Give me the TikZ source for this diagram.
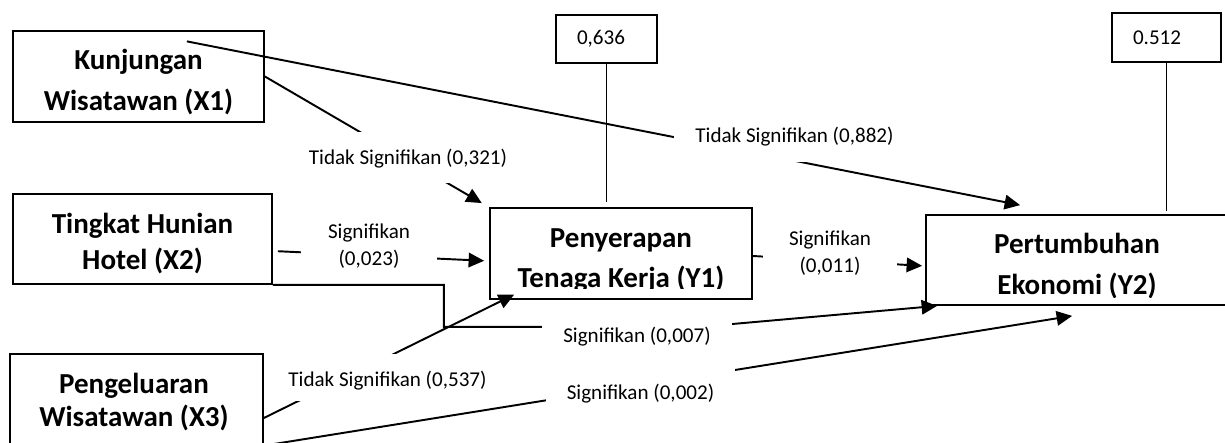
\documentclass[tikz,border=0pt]{standalone}
\usepackage{fontspec}
\setmainfont{Carlito}
\usetikzlibrary{arrows.meta}

\begin{document}
\begin{tikzpicture}[
    varbox/.style={draw, line width=1pt, minimum height=1.81cm, inner sep=0pt},
    title/.style={font=\fontsize{16.5}{23.2}\selectfont\bfseries, align=center,
      anchor=base, inner sep=0pt},
    numbox/.style={draw, line width=1pt, inner xsep=0.42cm, inner ysep=0pt,
      align=left, font=\fontsize{12}{14}\selectfont},
    lbl/.style={fill=white, inner xsep=0.42cm, inner ysep=0pt, anchor=base,
      font=\fontsize{12}{15.5}\selectfont},
    lblbox/.style={fill=white, inner sep=0pt, align=center,
      font=\fontsize{12}{15.5}\selectfont},
    arr/.style={-{Triangle[length=3.1mm,width=2.9mm]}, line width=1.1pt},
    link/.style={line width=1.1pt}
  ]
  \useasboundingbox (0,0) rectangle (24.5,8.86);

  % Variable boxes
  \node[varbox, minimum width=5.02cm] (x1) at (2.77,7.33) {};
  \node[varbox, minimum width=5.18cm, minimum height=1.80cm] (x2) at (2.85,4.08) {};
  \node[varbox, minimum width=5.06cm] (x3) at (2.73,0.87) {};
  \node[varbox, minimum width=5.24cm] (y1) at (12.42,3.79) {};
  \node[varbox, minimum width=6.04cm, minimum height=1.80cm] (y2) at (21.54,3.66) {};

  % titles sit on the baseline of their last line
  \node[title] (x1t) at (2.77,6.65) {Kunjungan\\Wisatawan (X1)};
  \node[title] (x2t) at (2.85,3.46) {Tingkat Hunian\\[-2.2pt]Hotel (X2)};
  \node[title] (x3t) at (2.68,0.32) {Pengeluaran\\[-3.9pt]Wisatawan (X3)};
  % second line of Y1 and Y2 is cut at the bottom
  \begin{scope}
    \clip ([yshift=0.23cm]y1.south west) rectangle (y1.north east);
    \node[title] (y1t) at (12.42,3.10) {Penyerapan\\Tenaga Kerja (Y1)};
  \end{scope}
  \begin{scope}
    \clip ([yshift=0.16cm]y2.south west) rectangle (y2.north east);
    \node[title] (y2t) at (21.54,2.97) {Pertumbuhan\\Ekonomi (Y2)};
  \end{scope}

  % R square
  \node[numbox, text width=1.18cm, minimum height=0.96cm] (r1) at (12.13,8.08) {0,636};
  \node[numbox, text width=1.34cm, minimum height=0.98cm] (r2) at (23.33,8.11) {0.512};
  \draw[link, shorten >=0.1cm] (r1.south) -- (r1.south |- y1.north);
  \draw[link, shorten >=0.06cm] (r2.south) -- (r2.south |- y2.north);

  % Arrows
  \draw[arr] ([shift={(-1.56,-0.22)}]x1.north east) -- ([shift={(1.9,0.18)}]y2.north west);
  \draw[arr, shorten >=0.17cm] (x1.east) -- (y1.north west);
  \draw[arr, shorten <=0.1cm, shorten >=0.1cm]
    ([yshift=-0.24cm]x2.east) -- ([yshift=-0.15cm]y1.west);
  \draw[arr] (x2.south east) -- ++(3.42,0) |- ++(5.12,-0.84)
    -- ([xshift=0.24cm]y2.south west);
  \draw[arr] ([yshift=-0.37cm]x3.east) -- ([shift={(0.5,0.1)}]y1.south west);
  \draw[arr] (x3.south east) -- ([shift={(2.94,-0.2)}]y2.south west);
  \draw[arr, shorten >=0.06cm] ([yshift=-0.05cm]y1.east) -- ([yshift=-0.12cm]y2.west);

  % Labels on the arrows
  \node[lbl, text height=0.66cm, text depth=0.36cm] (la) at (8.16,5.56)
    {Tidak Signifikan (0,321)};
  \node[lbl, text height=0.46cm, text depth=0.38cm] (lg) at (15.89,6.00)
    {Tidak Signifikan (0,882)};
  \node[lbl, text height=0.54cm, text depth=0.26cm] (lc) at (12.74,2.00)
    {Signifikan (0,007)};
  \node[lbl, text height=0.80cm, text depth=0.28cm] (ld) at (12.81,0.86)
    {Signifikan (0,002)};
  \node[lbl, text height=0.66cm, text depth=0.28cm] (le) at (7.75,1.12)
    {Tidak Signifikan (0,537)};
  \node[lblbox, minimum width=2.68cm, minimum height=1.24cm] (lf) at (16.60,3.80)
    {Signifikan\\(0,011)};
  \node[lblbox, minimum width=2.72cm, minimum height=0.98cm] (lb) at (7.38,3.99) {};
  \begin{scope}
    \clip (lb.south west) rectangle (lb.north east);
    \node[lblbox, fill=none, anchor=base] (lbt) at (7.38,3.54) {Signifikan\\(0,023)};
  \end{scope}
\end{tikzpicture}
\end{document}
